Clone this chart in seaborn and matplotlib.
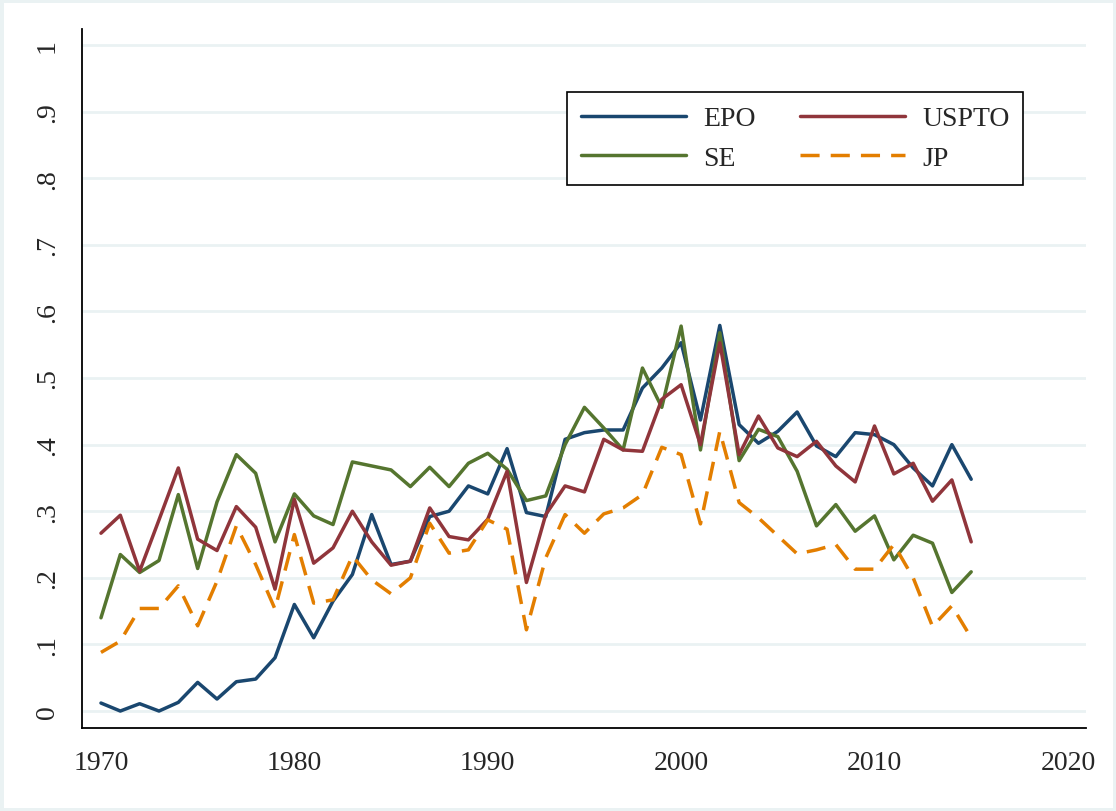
import numpy as np
import pandas as pd
import seaborn as sns
import matplotlib.pyplot as plt
from matplotlib.patches import Rectangle

years = list(range(1970, 2016))

epo = [0.012, 0.000, 0.011, 0.000, 0.013, 0.043, 0.018, 0.044, 0.048, 0.080,
       0.160, 0.110, 0.165, 0.205, 0.295, 0.220, 0.225, 0.292, 0.300, 0.338,
       0.326, 0.394, 0.298, 0.292, 0.408, 0.418, 0.422, 0.422, 0.485, 0.515,
       0.553, 0.437, 0.579, 0.430, 0.402, 0.420, 0.449, 0.398, 0.382, 0.418,
       0.415, 0.400, 0.365, 0.338, 0.400, 0.348]

uspto = [0.267, 0.294, 0.210, 0.287, 0.365, 0.258, 0.241, 0.307, 0.276, 0.183,
         0.318, 0.222, 0.245, 0.300, 0.254, 0.219, 0.225, 0.305, 0.262, 0.257,
         0.288, 0.360, 0.193, 0.295, 0.338, 0.329, 0.408, 0.392, 0.390, 0.468,
         0.490, 0.400, 0.553, 0.385, 0.443, 0.395, 0.382, 0.405, 0.368, 0.344,
         0.428, 0.356, 0.372, 0.315, 0.347, 0.254]

se = [0.140, 0.235, 0.208, 0.226, 0.325, 0.214, 0.314, 0.385, 0.357, 0.254,
      0.326, 0.293, 0.280, 0.374, 0.368, 0.362, 0.337, 0.366, 0.337, 0.372,
      0.387, 0.363, 0.316, 0.323, 0.400, 0.456, 0.425, 0.392, 0.515, 0.456,
      0.578, 0.392, 0.568, 0.376, 0.423, 0.412, 0.360, 0.278, 0.310, 0.270,
      0.293, 0.227, 0.264, 0.252, 0.178, 0.209]

jp = [0.088, 0.105, 0.154, 0.154, 0.188, 0.128, 0.195, 0.278, 0.220, 0.153,
      0.265, 0.162, 0.167, 0.233, 0.197, 0.176, 0.200, 0.282, 0.237, 0.242,
      0.287, 0.273, 0.122, 0.230, 0.295, 0.267, 0.296, 0.305, 0.325, 0.396,
      0.385, 0.281, 0.420, 0.313, 0.290, 0.263, 0.236, 0.242, 0.250, 0.213,
      0.213, 0.250, 0.200, 0.127, 0.158, 0.110]

x_ticks = [1970, 1980, 1990, 2000, 2010, 2020]
y_ticks = [0, 0.1, 0.2, 0.3, 0.4, 0.5, 0.6, 0.7, 0.8, 0.9, 1.0]
y_labels = ["0", ".1", ".2", ".3", ".4", ".5", ".6", ".7", ".8", ".9", "1"]

df = pd.concat([
    pd.DataFrame({"year": years, "share": epo, "office": "EPO"}),
    pd.DataFrame({"year": years, "share": se, "office": "SE"}),
    pd.DataFrame({"year": years, "share": uspto, "office": "USPTO"}),
    pd.DataFrame({"year": years, "share": jp, "office": "JP"}),
])

sns.set_theme(style="white")
plt.rcParams["font.family"] = ["Liberation Serif", "DejaVu Serif"]

palette = {"EPO": "#1a476f", "SE": "#55752f", "USPTO": "#90353b", "JP": "#e37e00"}
dashes = {"EPO": "", "SE": "", "USPTO": "", "JP": (5.5, 3.2)}
line_w = 2.5

fig = plt.figure(figsize=(11.16, 8.12), dpi=100)
ax = fig.add_axes([0.0735, 0.1022, 0.8995, 0.8608])

# gridlines first so lines sit on top
for yt in y_ticks:
    ax.axhline(yt, color="#eaf2f3", lw=2, zorder=0)

sns.lineplot(data=df, x="year", y="share", hue="office", style="office",
             hue_order=["EPO", "SE", "USPTO", "JP"],
             style_order=["EPO", "SE", "USPTO", "JP"],
             palette=palette, dashes=dashes, linewidth=line_w, ax=ax, zorder=3)

ax.set_xlim(1969.02, 2020.93)
ax.set_ylim(-0.0255, 1.024)
ax.set_xticks(x_ticks)
ax.set_xticklabels([str(t) for t in x_ticks], fontsize=20)
ax.set_yticks(y_ticks)
ax.set_yticklabels(y_labels, fontsize=20, rotation=90, va="center")
ax.tick_params(axis="both", direction="out", length=8, width=1.3, color="black", pad=8)
ax.set_xlabel("")
ax.set_ylabel("")

for s in ["top", "right"]:
    ax.spines[s].set_visible(False)
for s in ["left", "bottom"]:
    ax.spines[s].set_color("black")
    ax.spines[s].set_linewidth(1.3)

leg = ax.legend(ncol=2, loc="upper left", bbox_to_anchor=(0.483, 0.910),
                fontsize=20, frameon=True, fancybox=False,
                handlelength=3.8, borderaxespad=0, columnspacing=1.6,
                handletextpad=0.6, labelspacing=0.5, borderpad=0.5)
leg.get_frame().set_edgecolor("black")
leg.get_frame().set_linewidth(1.2)
leg.get_frame().set_facecolor("white")
leg.get_frame().set_alpha(1)
for h in leg.get_lines():
    h.set_linewidth(line_w)

fig.add_artist(Rectangle((0, 0), 1, 1, transform=fig.transFigure, fill=False,
                         edgecolor="#eaf2f3", lw=5))

fig.savefig("out.png", dpi=100, facecolor="white")
